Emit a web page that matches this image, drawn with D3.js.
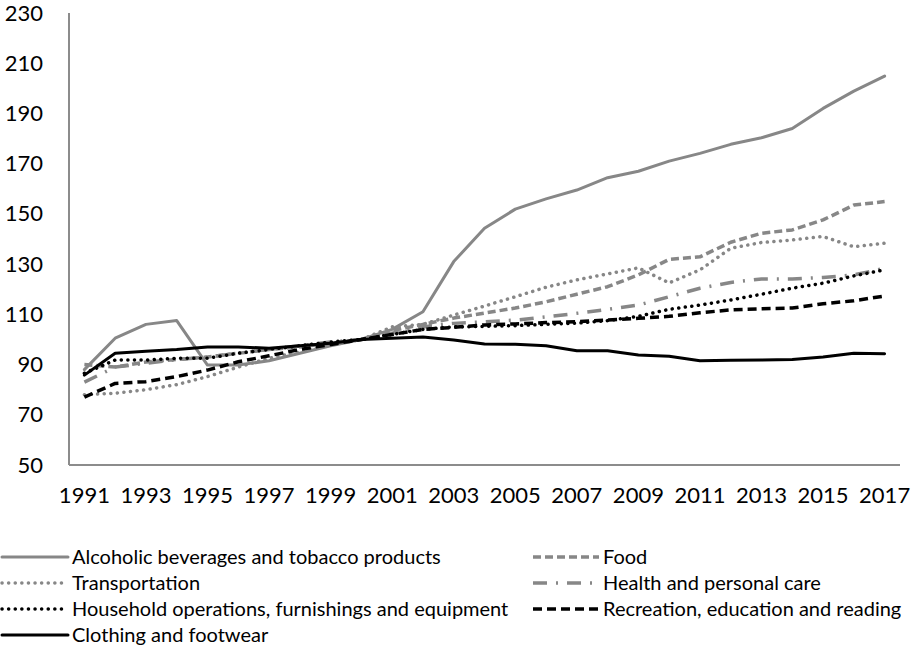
<!DOCTYPE html>
<html>
<head>
<meta charset="utf-8">
<script src="https://cdn.jsdelivr.net/npm/d3@7"></script>
<style>
  body { margin: 0; background: #fff; }
  svg text { font-family: Lato, "Open Sans", sans-serif; fill: #000; }
</style>
</head>
<body>
<div id="chart"></div>
<script>
// years on the category axis
var years = d3.range(1991, 2018);
var yTicks = [50, 70, 90, 110, 130, 150, 170, 190, 210, 230];

// index values (2000 = 100)
var alcohol   = [88, 100.5, 106, 107.5, 89.8, 89.8, 91.5, 94.5, 97.5, 100, 104, 111, 131, 144.3, 151.9, 156, 159.5, 164.4, 167, 171, 174.1, 177.7, 180.3, 184, 192, 198.9, 204.9];
var food      = [90, 89, 91, 92, 93, 94.5, 96, 97, 98.5, 100, 103.5, 106, 108.5, 110.5, 112.5, 115, 118, 121, 125.7, 131.9, 132.9, 138.7, 142.3, 143.6, 147.6, 153.5, 154.9];
var transport = [78, 78.6, 80, 82, 85.2, 89, 92.5, 95, 98, 100, 105, 106, 109.7, 113.3, 117, 120.8, 123.7, 126.1, 128.5, 122.5, 127.7, 136.3, 138.6, 139.6, 141, 136.9, 138.3];
var health    = [83, 89, 90.5, 92, 93, 94.5, 96, 97.5, 99, 100, 102.5, 105, 106.4, 107, 107.7, 109, 110.4, 112, 113.7, 117, 120.4, 122.7, 124.1, 124.1, 124.7, 125.7, 128.3];
var household = [86.5, 91.8, 91.8, 92.5, 92.5, 94.5, 96, 97.5, 99, 100, 102, 104, 105, 105.2, 105.5, 106, 106.5, 107.5, 109.2, 112, 113.7, 115.7, 118, 120.4, 122.4, 125.3, 127.7];
var recreation = [77, 82.5, 83.2, 85.2, 87.8, 91.1, 93.5, 96, 98, 100, 102, 104, 104.8, 105.8, 106.2, 106.7, 107.1, 107.7, 108.4, 109.2, 110.6, 111.8, 112.2, 112.5, 114.2, 115.4, 117.3];
var clothing  = [85.8, 94.5, 95.3, 96, 97, 97, 96.5, 97.5, 98.5, 100, 100.5, 101, 99.8, 98.2, 98.1, 97.5, 95.5, 95.5, 93.8, 93.3, 91.5, 91.7, 91.8, 92, 93, 94.5, 94.3];

var seriesNames = ["Alcoholic beverages and tobacco products", "Food", "Transportation",
  "Health and personal care", "Household operations, furnishings and equipment",
  "Recreation, education and reading", "Clothing and footwear"];
var seriesValues = [alcohol, food, transport, health, household, recreation, clothing];

var grey = "#878787";
var styles = [
  { color: grey, width: 3, dash: null, cap: "round" },
  { color: grey, width: 3.5, dash: "8,4", cap: "butt" },
  { color: grey, width: 3.5, dash: "0.1,6.5", cap: "round" },
  { color: grey, width: 3.5, dash: "14,9,2,9", cap: "butt" },
  { color: "#000", width: 3.5, dash: "0.1,6.5", cap: "round" },
  { color: "#000", width: 3.5, dash: "9,5", cap: "butt" },
  { color: "#000", width: 3, dash: null, cap: "round" }
];

var w = 913, h = 647;
var mLeft = 69, mRight = 900, mTop = 13, mBottom = 465;

var svg = d3.select("#chart").append("svg")
  .attr("width", w).attr("height", h);

var x = d3.scaleBand().domain(years).range([mLeft, mRight]);
var y = d3.scaleLinear().domain([50, 230]).range([mBottom, mTop]);

// axes
var yAxis = d3.axisLeft(y).tickValues(yTicks).tickSize(0).tickPadding(26);
svg.append("g").attr("class", "yaxis")
  .attr("transform", "translate(" + mLeft + ",0)")
  .call(yAxis);

var xAxis = d3.axisBottom(x).tickValues(years.filter(d => d % 2 === 1)).tickSize(0).tickPadding(22);
svg.append("g").attr("class", "xaxis")
  .attr("transform", "translate(0," + mBottom + ")")
  .call(xAxis);

svg.selectAll(".yaxis text, .xaxis text")
  .style("font-size", "22px").style("font-family", "Lato, sans-serif");
svg.selectAll(".domain").attr("stroke", "#8c8c8c").attr("stroke-width", 2);
svg.select(".yaxis .domain").attr("d", "M0," + mBottom + "V" + mTop);
svg.select(".xaxis .domain").attr("d", "M" + mLeft + ",0H" + mRight);

// lines
var line = d3.line()
  .x((d, i) => x(years[i]) + x.bandwidth() / 2)
  .y(d => y(d));

svg.selectAll("path.series").data(seriesValues).enter()
  .append("path")
  .attr("class", "series")
  .attr("fill", "none")
  .attr("d", line)
  .attr("stroke", (d, i) => styles[i].color)
  .attr("stroke-width", (d, i) => styles[i].width)
  .attr("stroke-dasharray", (d, i) => styles[i].dash)
  .attr("stroke-linecap", (d, i) => styles[i].cap)
  .attr("stroke-linejoin", "round");

// legend, two columns
var colX = [2, 533], swatchW = 66, rowH = 26, legTop = 557;
var leg = svg.selectAll("g.leg").data(seriesNames).enter()
  .append("g").attr("class", "leg")
  .attr("transform", (d, i) => "translate(" + colX[i % 2] + "," + (legTop + Math.floor(i / 2) * rowH) + ")");

leg.append("line")
  .attr("x1", 0).attr("x2", swatchW).attr("y1", 0).attr("y2", 0)
  .attr("stroke", (d, i) => styles[i].color)
  .attr("stroke-width", (d, i) => styles[i].width)
  .attr("stroke-dasharray", (d, i) => styles[i].dash)
  .attr("stroke-linecap", (d, i) => styles[i].cap);

leg.append("text")
  .attr("x", swatchW + 4).attr("y", 0).attr("dy", "0.35em")
  .style("font-size", "20px")
  .text(d => d);
</script>
</body>
</html>
